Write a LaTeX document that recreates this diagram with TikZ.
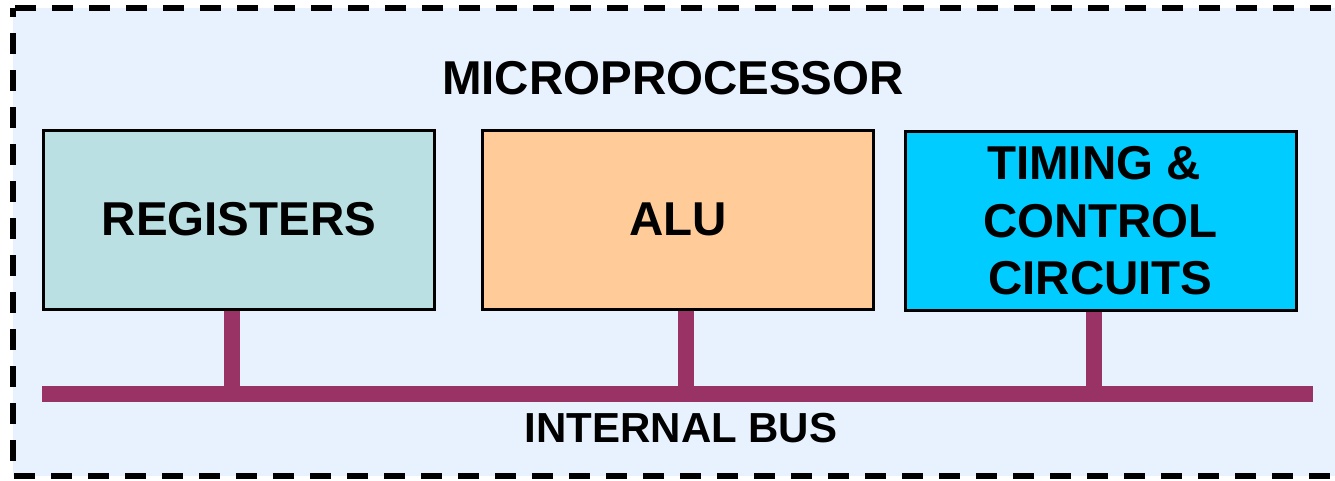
\documentclass[tikz,border=0pt]{standalone}
\usepackage{fontspec}
\setmainfont{Liberation Sans}
\definecolor{panelbg}{HTML}{E8F2FE}
\definecolor{regfill}{HTML}{BAE0E3}
\definecolor{alufill}{HTML}{FFCC99}
\definecolor{ctlfill}{HTML}{00CCFF}
\definecolor{buscol}{HTML}{993366}
\begin{document}
\begin{tikzpicture}[x=1pt,y=-1pt,
  unitbox/.style={draw=black, line width=3pt, minimum width=391pt, minimum height=179pt,
    inner sep=0pt, align=center, font=\fontsize{47.5}{57.5}\selectfont\bfseries},
  busline/.style={draw=buscol, line width=16pt, line cap=butt},
  label/.style={inner sep=0pt, font=\fontsize{47.5}{57}\selectfont\bfseries}]
  \clip (0,0) rectangle (1335,480);
  \useasboundingbox (0,0) rectangle (1335,480);
  % chip outline
  \draw[fill=panelbg, line width=6pt, dash pattern=on 21pt off 16pt, dash phase=12pt]
    (13,8) rectangle (1345,476);
  \node[label] (title) at (673,78) {MICROPROCESSOR};
  % functional units
  \node[unitbox, fill=regfill] (reg) at (239,219.5) {REGISTERS};
  \node[unitbox, fill=alufill] (alu) at (678,219.5) {ALU};
  \node[unitbox, fill=ctlfill] (ctl) at (1100.5,221) {TIMING \&\hspace*{0.28em}\\CONTROL\\CIRCUITS};
  % internal bus
  \coordinate (busL) at (42,394);
  \coordinate (busR) at (1313,394);
  \draw[busline] (busL) -- (busR);
  \draw[busline] ([xshift=-7pt]reg.south) -- ([xshift=-7pt]reg.south |- busL);
  \draw[busline] ([xshift=8pt]alu.south) -- ([xshift=8pt]alu.south |- busL);
  \draw[busline] ([xshift=-6.5pt]ctl.south) -- ([xshift=-6.5pt]ctl.south |- busL);
  \node[label, font=\fontsize{42}{50}\selectfont\bfseries] (buslabel) at (681,428) {INTERNAL BUS};
\end{tikzpicture}
\end{document}
